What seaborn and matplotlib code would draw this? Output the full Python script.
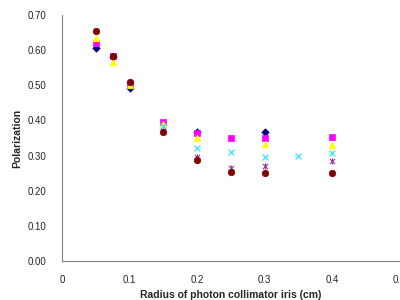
import matplotlib
matplotlib.use("Agg")
from matplotlib import pyplot as plt
from matplotlib.path import Path
import numpy as np
import seaborn as sb

# radius of iris (cm) and polarization for each series
diamond_x = [0.05, 0.075, 0.1, 0.2, 0.3]
diamond_y = [0.605, 0.580, 0.493, 0.368, 0.368]

square_x = [0.05, 0.075, 0.1, 0.15, 0.2, 0.25, 0.3, 0.4]
square_y = [0.620, 0.582, 0.505, 0.395, 0.364, 0.350, 0.350, 0.354]

triangle_x = [0.05, 0.075, 0.1, 0.15, 0.2, 0.3, 0.4]
triangle_y = [0.635, 0.567, 0.500, 0.390, 0.351, 0.332, 0.330]

cross_x = [0.15, 0.2, 0.25, 0.3, 0.35, 0.4]
cross_y = [0.385, 0.321, 0.310, 0.296, 0.298, 0.308]

star_x = [0.15, 0.2, 0.25, 0.3, 0.4]
star_y = [0.370, 0.297, 0.264, 0.269, 0.285]

circle_x = [0.05, 0.075, 0.1, 0.15, 0.2, 0.25, 0.3, 0.4]
circle_y = [0.655, 0.584, 0.508, 0.367, 0.287, 0.252, 0.249, 0.250]

x_ticks = [0, 0.1, 0.2, 0.3, 0.4, 0.5]
x_tick_labels = ["0", "0.1", "0.2", "0.3", "0.4", "0.5"]
y_ticks = [0.0, 0.1, 0.2, 0.3, 0.4, 0.5, 0.6, 0.7]

sb.set_style("white")
plt.rcParams["font.family"] = ["Liberation Sans", "DejaVu Sans"]

# excel style star: an x with a vertical bar through it
star = Path([(-1, -1), (1, 1), (-1, 1), (1, -1), (0, -1.2), (0, 1.2)],
            [Path.MOVETO, Path.LINETO] * 3)

fig = plt.figure(figsize=(4, 3), dpi=100)
ax = fig.add_axes([0.155, 0.13, 0.844, 0.82])

series = [
    (diamond_x, diamond_y, "D", "#000080", 14, 0.5),
    (square_x, square_y, "s", "#FF00FF", 20, 0.5),
    (triangle_x, triangle_y, "^", "#FFFF00", 22, 0.5),
    (cross_x, cross_y, "x", "#33E5FF", 18, 0.9),
    (star_x, star_y, star, "#9933AA", 20, 0.8),
    (circle_x, circle_y, "o", "#800000", 22, 0.5),
]
for xs, ys, m, c, s, lw in series:
    sb.scatterplot(x=xs, y=ys, marker=m, color=c, edgecolor=c, s=s,
                   linewidth=lw, ax=ax, zorder=3)

ax.set_xlim(0, 0.5)
ax.set_ylim(0, 0.7)
ax.set_xticks(x_ticks)
ax.set_xticklabels(x_tick_labels)
ax.set_yticks(y_ticks)
ax.set_yticklabels(["%.2f" % v for v in y_ticks])

for side in ["top", "right"]:
    ax.spines[side].set_visible(False)
for side in ["left", "bottom"]:
    ax.spines[side].set_color("#808080")
    ax.spines[side].set_linewidth(0.8)
ax.tick_params(axis="both", length=3, width=0.8, color="#808080",
               labelsize=7, direction="out")
ax.tick_params(axis="y", pad=8)
ax.tick_params(axis="x", pad=7)

ax.set_xlabel("Radius of photon collimator iris (cm)", fontsize=7.5,
              fontweight="bold", labelpad=4)
ax.set_ylabel("Polarization", fontsize=7.5, fontweight="bold", labelpad=4)

plt.savefig("out.png", dpi=100)
